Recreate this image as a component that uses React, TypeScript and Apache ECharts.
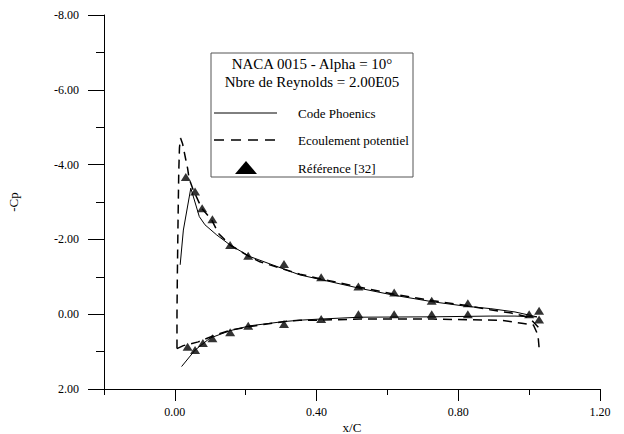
import React, { useEffect, useRef } from "react";
import * as echarts from "echarts";

// Code Phoenics (solid)
const phoenicsUpperX = [0.015, 0.024, 0.045, 0.069, 0.085, 0.118, 0.156, 0.212, 0.353, 0.41, 0.523, 0.617, 0.729, 0.824, 0.89, 0.96, 1.022];
const phoenicsUpperCp = [-1.32, -2.25, -3.37, -2.61, -2.39, -2.12, -1.85, -1.54, -1.05, -0.93, -0.69, -0.51, -0.33, -0.21, -0.15, -0.06, 0.07];
const phoenicsLowerX = [0.019, 0.057, 0.099, 0.156, 0.212, 0.305, 0.353, 0.41, 0.523, 0.729, 0.89, 0.96, 1.012, 1.022];
const phoenicsLowerCp = [1.4, 0.96, 0.64, 0.44, 0.31, 0.2, 0.16, 0.13, 0.08, 0.07, 0.05, 0.05, 0.07, 0.07];

// Ecoulement potentiel (dashed)
const potUpperX = [0.006, 0.006, 0.007, 0.009, 0.011, 0.013, 0.016, 0.022, 0.03, 0.036, 0.04, 0.052, 0.076, 0.104, 0.123, 0.156, 0.203, 0.24, 0.353, 0.41, 0.523, 0.617, 0.729, 0.824, 0.89, 0.95, 0.99, 1.007, 1.026];
const potUpperCp = [0.92, 0.0, -1.0, -2.5, -3.8, -4.45, -4.71, -4.55, -4.17, -3.9, -3.63, -3.32, -2.83, -2.52, -2.16, -1.85, -1.58, -1.4, -1.07, -0.95, -0.72, -0.54, -0.36, -0.23, -0.12, -0.03, 0.06, 0.16, 0.35];
const potLowerX = [0.006, 0.024, 0.066, 0.113, 0.16, 0.212, 0.306, 0.353, 0.41, 0.523, 0.729, 0.918, 0.979, 1.012, 1.025, 1.029];
const potLowerCp = [0.92, 0.84, 0.74, 0.56, 0.42, 0.33, 0.2, 0.16, 0.16, 0.13, 0.13, 0.16, 0.24, 0.29, 0.56, 1.0];

// Référence [32] (triangles)
const refUpperX = [0.031, 0.057, 0.077, 0.106, 0.156, 0.207, 0.308, 0.413, 0.518, 0.619, 0.725, 0.827, 1.0, 1.028];
const refUpperCp = [-3.67, -3.28, -2.83, -2.54, -1.85, -1.56, -1.34, -0.99, -0.74, -0.58, -0.36, -0.29, 0.0, -0.09];
const refLowerX = [0.036, 0.057, 0.079, 0.106, 0.156, 0.207, 0.308, 0.413, 0.518, 0.619, 0.725, 0.827, 1.028];
const refLowerCp = [0.87, 0.96, 0.77, 0.64, 0.48, 0.31, 0.26, 0.13, 0.0, 0.0, 0.0, 0.0, 0.14];

const xMajorTicks = [0, 0.4, 0.8, 1.2];
const xMinorTicks = [-0.2, 0.2, 0.6, 1.0];
const yMajorTicks = [-8, -6, -4, -2, 0, 2];
const yMinorTicks = [-7, -5, -3, -1, 1];

const titleLine1 = "NACA 0015 - Alpha = 10°";
const titleLine2 = "Nbre de Reynolds = 2.00E05";
const seriesNames = ["Code Phoenics", "Ecoulement potentiel", "Référence [32]"];

const FONT = '"Liberation Serif", "Times New Roman", serif';

const zip = (xs: number[], ys: number[]) => xs.map((x, i) => [x, ys[i]]);

export default function App() {
  const ref = useRef<HTMLDivElement>(null);
  useEffect(() => {
    document.body.style.margin = "0";
    if (!ref.current) return;
    const chart = echarts.init(ref.current, undefined, { renderer: "svg" });
    const fmt = (v: number) => Number(v).toFixed(2);
    const axisCommonX = {
      type: "value",
      min: -0.2,
      max: 1.2,
      position: "bottom",
      splitLine: { show: false },
    };
    const axisCommonY = {
      type: "value",
      min: -8,
      max: 2,
      inverse: true,
      position: "left",
      splitLine: { show: false },
    };
    const solid = { color: "#000", width: 1, type: "solid" };
    const dashed = { color: "#000", width: 1.5, type: [9, 6] };
    chart.setOption({
      animation: false,
      backgroundColor: "#fff",
      textStyle: { fontFamily: FONT, color: "#000" },
      grid: { left: 104, top: 15, width: 496, height: 374, outerBoundsMode: "none", containLabel: false },
      xAxis: [
        {
          ...axisCommonX,
          name: "x/C",
          nameLocation: "middle",
          nameGap: 32,
          nameMoveOverlap: false,
          nameTextStyle: { fontFamily: FONT, fontSize: 13, color: "#000" },
          axisLine: { show: true, onZero: false, lineStyle: { color: "#000", width: 1 } },
          axisTick: { show: true, length: 12, customValues: xMajorTicks, lineStyle: { color: "#000" } },
          axisLabel: {
            customValues: xMajorTicks,
            formatter: fmt,
            margin: 17,
            fontFamily: FONT,
            fontSize: 12,
            color: "#000",
            showMinLabel: true,
            showMaxLabel: true,
          },
        },
        {
          ...axisCommonX,
          axisLine: { show: false, onZero: false },
          axisTick: { show: true, length: 6, customValues: xMinorTicks, lineStyle: { color: "#000" } },
          axisLabel: { show: false },
        },
      ],
      yAxis: [
        {
          ...axisCommonY,
          name: "-Cp",
          nameLocation: "middle",
          nameGap: 84,
          nameMoveOverlap: false,
          nameTextStyle: { fontFamily: FONT, fontSize: 13, color: "#000" },
          axisLine: { show: true, onZero: false, lineStyle: { color: "#000", width: 1 } },
          axisTick: { show: true, length: 16, customValues: yMajorTicks, lineStyle: { color: "#000" } },
          axisLabel: {
            customValues: yMajorTicks,
            formatter: fmt,
            margin: 25,
            fontFamily: FONT,
            fontSize: 12,
            color: "#000",
            showMinLabel: true,
            showMaxLabel: true,
          },
        },
        {
          ...axisCommonY,
          axisLine: { show: false, onZero: false },
          axisTick: { show: true, length: 8, customValues: yMinorTicks, lineStyle: { color: "#000" } },
          axisLabel: { show: false },
        },
      ],
      series: [
        { name: seriesNames[0], type: "line", data: zip(phoenicsUpperX, phoenicsUpperCp), showSymbol: false, symbol: "none", lineStyle: solid, z: 3 },
        { name: seriesNames[0], type: "line", data: zip(phoenicsLowerX, phoenicsLowerCp), showSymbol: false, symbol: "none", lineStyle: solid, z: 3 },
        { name: seriesNames[1], type: "line", data: zip(potUpperX, potUpperCp), showSymbol: false, symbol: "none", lineStyle: dashed, z: 2 },
        { name: seriesNames[1], type: "line", data: zip(potLowerX, potLowerCp), showSymbol: false, symbol: "none", lineStyle: dashed, z: 2 },
        {
          name: seriesNames[2],
          type: "scatter",
          data: zip(refUpperX, refUpperCp).concat(zip(refLowerX, refLowerCp)),
          symbol: "triangle",
          symbolSize: [10, 8],
          itemStyle: { color: "#000" },
          z: 4,
        },
      ],
      graphic: [
        {
          type: "group",
          z: 100,
          children: [
            { type: "rect", shape: { x: 211, y: 53, width: 202, height: 124 }, style: { fill: "#fff", stroke: "#555", lineWidth: 1 } },
            { type: "text", x: 312, y: 64, style: { text: titleLine1, font: `15px ${FONT}`, fill: "#000", align: "center", verticalAlign: "middle" } },
            { type: "text", x: 312, y: 82, style: { text: titleLine2, font: `15px ${FONT}`, fill: "#000", align: "center", verticalAlign: "middle" } },
            { type: "line", shape: { x1: 214, y1: 113, x2: 277, y2: 113 }, style: { stroke: "#000", lineWidth: 1 } },
            { type: "line", shape: { x1: 214, y1: 140, x2: 277, y2: 140 }, style: { stroke: "#000", lineWidth: 1.5, lineDash: [10, 7] } },
            { type: "polygon", shape: { points: [[235, 174], [257, 174], [246, 161]] }, style: { fill: "#000" } },
            { type: "text", x: 298, y: 113, style: { text: seriesNames[0], font: `13px ${FONT}`, fill: "#000", verticalAlign: "middle" } },
            { type: "text", x: 298, y: 140, style: { text: seriesNames[1], font: `13px ${FONT}`, fill: "#000", verticalAlign: "middle" } },
            { type: "text", x: 298, y: 168, style: { text: seriesNames[2], font: `13px ${FONT}`, fill: "#000", verticalAlign: "middle" } },
          ],
        },
      ],
    });
    return () => chart.dispose();
  }, []);
  return <div ref={ref} style={{ width: 624, height: 434 }} />;
}
